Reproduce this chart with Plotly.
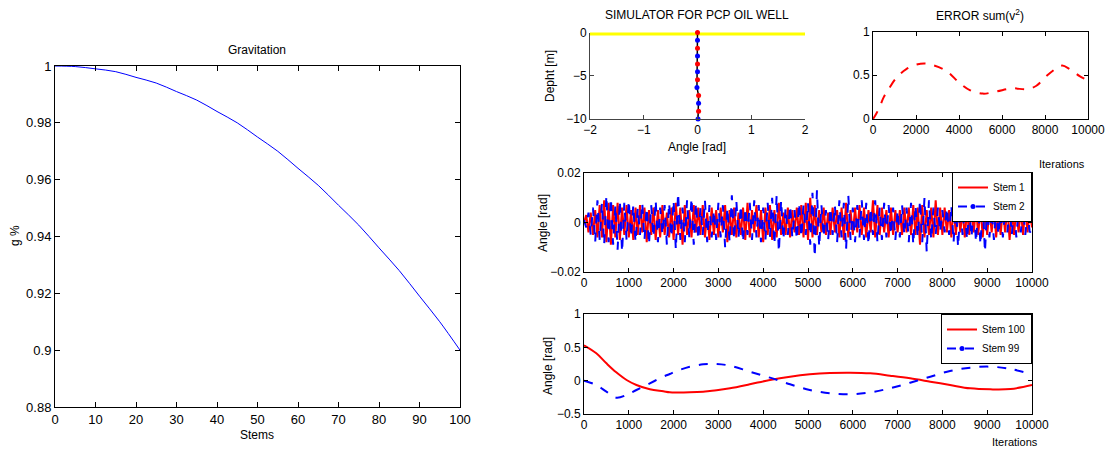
import plotly.graph_objects as go

FONT = "Liberation Sans, Arial, sans-serif"

# ---------------- data ----------------
stems = [0, 5, 10, 15, 20, 25, 30, 35, 40, 45, 50, 55, 60, 65, 70, 75, 80, 85, 90, 95, 100]
gravity = [1.0, 0.9998, 0.999, 0.998, 0.996, 0.994, 0.991, 0.988, 0.984, 0.98, 0.975,
           0.97, 0.964, 0.958, 0.951, 0.944, 0.936, 0.928, 0.919, 0.91, 0.9]

node_depth = [0, -0.909, -1.818, -2.727, -3.636, -4.545, -5.455, -6.364, -7.273, -8.182, -9.091, -10]
node_angle = [0.0, 0.0, 0.0, 0.0, 0.0, 0.0, 0.0, -0.01, 0.02, 0.02, 0.02, 0.01]
node_colors = ["red", "blue"] * 6
ground_x = [-2, 2]
ground_y = [0, 0]

err_iter = [0, 150, 310, 500, 700, 1085, 1550, 2000, 2400, 2800, 3410, 4030, 4500, 5116,
            5736, 6510, 7130, 7600, 8060, 8530, 8800, 9150, 9610, 10000]
err_val = [0.0, 0.06, 0.14, 0.25, 0.33, 0.47, 0.57, 0.62, 0.635, 0.615, 0.55, 0.41, 0.33, 0.29,
           0.315, 0.35, 0.34, 0.38, 0.49, 0.58, 0.61, 0.57, 0.49, 0.44]

stem1 = [
    0, 0.003, -0.004, 0.004, -0.005, 0.005, -0.006, 0.007, -0.006, 0.009,
    -0.008, 0.008, -0.009, 0.007, -0.006, 0.008, -0.007, 0.006, -0.005, 0.007,
    -0.006, 0.005, -0.007, 0.006, -0.005, 0.007, -0.004, 0.006, -0.008, 0.005,
    -0.005, 0.006, -0.007, 0.005, -0.006, 0.007, -0.005, 0.004, -0.006, 0.006,
    -0.007, 0.008, -0.005, 0.006, -0.009, 0.007, -0.005, 0.005, -0.006, 0.007,
    -0.004, 0.006, -0.005, 0.007, -0.006, 0.004, -0.007, 0.006, -0.005, 0.005,
    -0.006, 0.006, -0.004, 0.007, -0.008, 0.005, -0.005, 0.006, -0.006, 0.004,
    -0.005, 0.006, -0.007, 0.008, -0.006, 0.005, -0.004, 0.007, -0.006, 0.005,
    -0.008, 0.006, -0.005, 0.007, -0.007, 0.005, -0.006, 0.008, -0.005, 0.004,
    -0.005, 0.006, -0.006, 0.005, -0.004, 0.006, -0.005, 0.007, -0.006, 0.008,
    -0.007, 0.010, -0.006, 0.007, -0.005, 0.005, -0.004, 0.006, -0.005, 0.004,
    -0.005, 0.006, -0.004, 0.005, -0.006, 0.006, -0.007, 0.008, -0.006, 0.005,
    -0.005, 0.006, -0.004, 0.007, -0.005, 0.006, -0.006, 0.005, -0.004, 0.009,
    -0.006, 0.007, -0.005, 0.006, -0.004, 0.005, -0.006, 0.006, -0.005, 0.005,
    -0.004, 0.005, -0.005, 0.006, -0.004, 0.006, -0.005, 0.007, -0.005, 0.006,
    -0.009, 0.007, -0.006, 0.005, -0.005, 0.006, -0.006, 0.009, -0.005, 0.006,
    -0.005, 0.006, -0.004, 0.005, -0.006, 0.007, -0.005, 0.006, -0.004, 0.005,
    -0.006, 0.005, -0.005, 0.006, -0.004, 0.006, -0.005, 0.007, -0.006, 0.005,
    -0.005, 0.006, -0.004, 0.007, -0.006, 0.005, -0.005, 0.006, -0.004, 0.006,
    -0.007, 0.005, -0.005, 0.006, -0.004, 0.005, -0.005, 0.006, -0.004, 0.005,
    -0.002,
]
stem2 = [
    0.001, -0.002, 0.004, -0.005, 0.006, -0.008, 0.009, -0.007, 0.008, -0.009,
    0.011, -0.008, 0.010, -0.009, 0.007, -0.011, 0.009, -0.012, 0.008, -0.007,
    0.009, -0.006, 0.007, -0.008, 0.006, -0.005, 0.008, -0.007, 0.006, -0.009,
    0.007, -0.006, 0.009, -0.008, 0.006, -0.005, 0.007, -0.009, 0.008, -0.006,
    0.009, -0.011, 0.012, -0.007, 0.006, -0.008, 0.009, -0.006, 0.010, -0.009,
    0.008, -0.007, 0.006, -0.005, 0.009, -0.008, 0.007, -0.006, 0.005, -0.007,
    0.008, -0.006, 0.007, -0.010, 0.006, -0.008, 0.011, -0.007, 0.009, -0.006,
    0.007, -0.008, 0.006, -0.005, 0.008, -0.007, 0.009, -0.006, 0.007, -0.008,
    0.006, -0.007, 0.008, -0.006, 0.010, -0.009, 0.011, -0.012, 0.009, -0.007,
    0.006, -0.005, 0.007, -0.006, 0.005, -0.007, 0.008, -0.006, 0.007, -0.005,
    0.008, -0.009, 0.012, -0.014, 0.013, -0.010, 0.007, -0.006, 0.005, -0.007,
    0.006, -0.005, 0.007, -0.008, 0.009, -0.006, 0.008, -0.011, 0.011, -0.007,
    0.006, -0.008, 0.007, -0.006, 0.009, -0.007, 0.008, -0.009, 0.006, -0.005,
    0.009, -0.008, 0.006, -0.007, 0.008, -0.006, 0.007, -0.005, 0.006, -0.007,
    0.005, -0.006, 0.007, -0.005, 0.006, -0.008, 0.008, -0.009, 0.007, -0.006,
    0.009, -0.008, 0.010, -0.012, 0.009, -0.007, 0.006, -0.005, 0.006, -0.004,
    0.005, -0.004, 0.006, -0.005, 0.007, -0.008, 0.008, -0.010, 0.006, -0.005,
    0.006, -0.007, 0.005, -0.006, 0.007, -0.008, 0.006, -0.009, 0.008, -0.012,
    0.007, -0.006, 0.005, -0.007, 0.006, -0.005, 0.004, -0.006, 0.005, -0.004,
    0.006, -0.005, 0.007, -0.006, 0.005, -0.004, 0.006, -0.005, 0.004, -0.004,
    -0.003,
]
iter_fast = [50 * i for i in range(len(stem1))]

iter_slow = [0, 275, 500, 720, 950, 1170, 1470, 1770, 1915, 2070, 2360, 2660, 2810, 2960,
             3260, 3700, 4150, 4600, 5040, 5490, 5940, 6390, 6830, 7280, 7730, 8170,
             8620, 9070, 9520, 10000]
stem100 = [0.53, 0.41, 0.26, 0.125, 0.01, -0.065, -0.13, -0.16, -0.175, -0.178, -0.175,
           -0.165, -0.155, -0.145, -0.115, -0.055, 0.01, 0.06, 0.095, 0.115, 0.12, 0.11,
           0.075, 0.035, -0.015, -0.065, -0.115, -0.13, -0.125, -0.065]
stem99 = [0.0, -0.065, -0.165, -0.255, -0.215, -0.14, -0.04, 0.06, 0.1, 0.145, 0.21, 0.245,
          0.25, 0.25, 0.225, 0.135, 0.045, -0.055, -0.14, -0.19, -0.205, -0.175, -0.115,
          -0.03, 0.06, 0.145, 0.195, 0.21, 0.175, 0.095]

grav_ticks = [0.88, 0.9, 0.92, 0.94, 0.96, 0.98, 1]
grav_ticktext = ["0.88", "0.9", "0.92", "0.94", "0.96", "0.98", "1"]

# ---------------- figure ----------------
fig = go.Figure()

# Panel 1: Gravitation
fig.add_trace(go.Scatter(x=stems, y=gravity, mode="lines", line=dict(color="blue", width=1, shape="spline"),
                         xaxis="x", yaxis="y", showlegend=False))

# Panel 2: simulator
fig.add_trace(go.Scatter(x=ground_x, y=ground_y, mode="lines", line=dict(color="#ffff00", width=6),
                         xaxis="x2", yaxis="y2", showlegend=False, cliponaxis=False))
fig.add_trace(go.Scatter(x=node_angle, y=node_depth, mode="lines+markers",
                         line=dict(color="black", width=1.5),
                         marker=dict(color=node_colors, size=5),
                         xaxis="x2", yaxis="y2", showlegend=False, cliponaxis=False))

# Panel 3: error
fig.add_trace(go.Scatter(x=err_iter, y=err_val, mode="lines", line=dict(color="red", width=2, dash="dash", shape="spline"),
                         xaxis="x3", yaxis="y3", showlegend=False))

# Panel 4: stems 1, 2
fig.add_trace(go.Scatter(x=iter_fast, y=stem1, mode="lines", line=dict(color="red", width=2),
                         xaxis="x4", yaxis="y4", showlegend=False))
fig.add_trace(go.Scatter(x=iter_fast, y=stem2, mode="lines", line=dict(color="blue", width=2, dash="dash"),
                         xaxis="x4", yaxis="y4", showlegend=False))
fig.add_trace(go.Scatter(x=[None], y=[None], mode="lines", name="Stem 1",
                         line=dict(color="red", width=2), xaxis="x4", yaxis="y4", legend="legend"))
fig.add_trace(go.Scatter(x=[None], y=[None], mode="lines+markers", name="Stem 2",
                         line=dict(color="blue", width=2, dash="dash"), marker=dict(size=5, color="blue"),
                         xaxis="x4", yaxis="y4", legend="legend"))

# Panel 5: stems 100, 99
fig.add_trace(go.Scatter(x=iter_slow, y=stem100, mode="lines", line=dict(color="red", width=2, shape="spline"),
                         xaxis="x5", yaxis="y5", showlegend=False))
fig.add_trace(go.Scatter(x=iter_slow, y=stem99, mode="lines", line=dict(color="blue", width=2, dash="dash", shape="spline"),
                         xaxis="x5", yaxis="y5", showlegend=False))
fig.add_trace(go.Scatter(x=[None], y=[None], mode="lines", name="Stem 100",
                         line=dict(color="red", width=2), xaxis="x5", yaxis="y5", legend="legend2"))
fig.add_trace(go.Scatter(x=[None], y=[None], mode="lines+markers", name="Stem 99",
                         line=dict(color="blue", width=2, dash="dash"), marker=dict(size=5, color="blue"),
                         xaxis="x5", yaxis="y5", legend="legend2"))

W, H = 1112, 450

def px_x(p):
    return p / W

def px_y(p):
    return 1 - p / H

def ax(domain, rng, tickvals=None, ticktext=None, dtick=None, mirror="ticks", size=12, ticklen=4, anchor=None, color="black"):
    d = dict(domain=domain, range=rng, showline=True, linecolor=color, linewidth=1,
             ticks="inside", ticklen=ticklen, tickcolor=color, mirror=mirror, automargin=False,
             showgrid=False, zeroline=False, tickfont=dict(family=FONT, size=size, color="black"),
             anchor=anchor, fixedrange=True)
    if tickvals is not None:
        d["tickmode"] = "array"
        d["tickvals"] = tickvals
        if ticktext is not None:
            d["ticktext"] = ticktext
    elif dtick is not None:
        d["tick0"] = rng[0]
        d["dtick"] = dtick
        d["tickformat"] = "~g"
    return d

fig.update_layout(
    template="none",
    width=W, height=H, margin=dict(l=0, r=0, t=0, b=0, autoexpand=False),
    paper_bgcolor="white", plot_bgcolor="white",
    font=dict(family=FONT, size=12, color="black"),
    xaxis=ax([px_x(55), px_x(460)], [0, 100], dtick=10, size=13, ticklen=5, anchor="y"),
    yaxis=ax([px_y(407), px_y(66)], [0.88, 1], tickvals=grav_ticks, ticktext=grav_ticktext, size=13, ticklen=5, anchor="x"),
    xaxis2=ax([px_x(590), px_x(805)], [-2, 2], dtick=1, mirror=False, anchor="y2", color="#444444"),
    yaxis2=ax([px_y(119), px_y(32.5)], [-10, 0], dtick=5, mirror=False, anchor="x2", color="#444444"),
    xaxis3=ax([px_x(873), px_x(1088)], [0, 10000], dtick=2000, anchor="y3"),
    yaxis3=ax([px_y(119), px_y(31.5)], [0, 1], dtick=0.5, anchor="x3"),
    xaxis4=ax([px_x(584), px_x(1032)], [0, 10000], dtick=1000, anchor="y4"),
    yaxis4=ax([px_y(272), px_y(173)], [-0.02, 0.02], dtick=0.02, anchor="x4"),
    xaxis5=ax([px_x(584), px_x(1032)], [0, 10000], dtick=1000, anchor="y5"),
    yaxis5=ax([px_y(414), px_y(314)], [-0.5, 1], dtick=0.5, anchor="x5"),
    legend=dict(x=px_x(1032), y=px_y(172), xanchor="right", yanchor="top",
                bgcolor="white", bordercolor="black", borderwidth=1,
                font=dict(family=FONT, size=10), tracegroupgap=0, itemwidth=30),
    legend2=dict(x=px_x(1032), y=px_y(314), xanchor="right", yanchor="top",
                 bgcolor="white", bordercolor="black", borderwidth=1,
                 font=dict(family=FONT, size=10), tracegroupgap=0, itemwidth=30),
)

ann = [
    dict(text="Gravitation", x=px_x(257), y=px_y(50), xanchor="center", yanchor="middle", size=12),
    dict(text="Stems", x=px_x(257), y=px_y(435), xanchor="center", yanchor="middle", size=12),
    dict(text="SIMULATOR FOR PCP OIL WELL", x=px_x(697), y=px_y(15), xanchor="center", yanchor="middle", size=12),
    dict(text="Angle [rad]", x=px_x(697), y=px_y(147), xanchor="center", yanchor="middle", size=12),
    dict(text="ERROR sum(v<sup>2</sup>)", x=px_x(980), y=px_y(15), xanchor="center", yanchor="middle", size=12),
    dict(text="Iterations", x=px_x(1087), y=px_y(164), xanchor="right", yanchor="middle", size=11),
    dict(text="Iterations", x=px_x(1040), y=px_y(442), xanchor="right", yanchor="middle", size=11),
]
vann = [
    dict(text="g %", x=px_x(15), y=px_y(236), size=12),
    dict(text="Depht [m]", x=px_x(550), y=px_y(76), size=12),
    dict(text="Angle [rad]", x=px_x(543), y=px_y(223), size=12),
    dict(text="Angle [rad]", x=px_x(548), y=px_y(366), size=12),
]
annotations = []
for a in ann:
    annotations.append(dict(text=a["text"], x=a["x"], y=a["y"], xref="paper", yref="paper",
                            xanchor=a["xanchor"], yanchor=a["yanchor"], showarrow=False,
                            font=dict(family=FONT, size=a["size"], color="black")))
for a in vann:
    annotations.append(dict(text=a["text"], x=a["x"], y=a["y"], xref="paper", yref="paper",
                            xanchor="center", yanchor="middle", showarrow=False, textangle=-90,
                            font=dict(family=FONT, size=a["size"], color="black")))
fig.update_layout(annotations=annotations)

fig.write_html("out.html")
